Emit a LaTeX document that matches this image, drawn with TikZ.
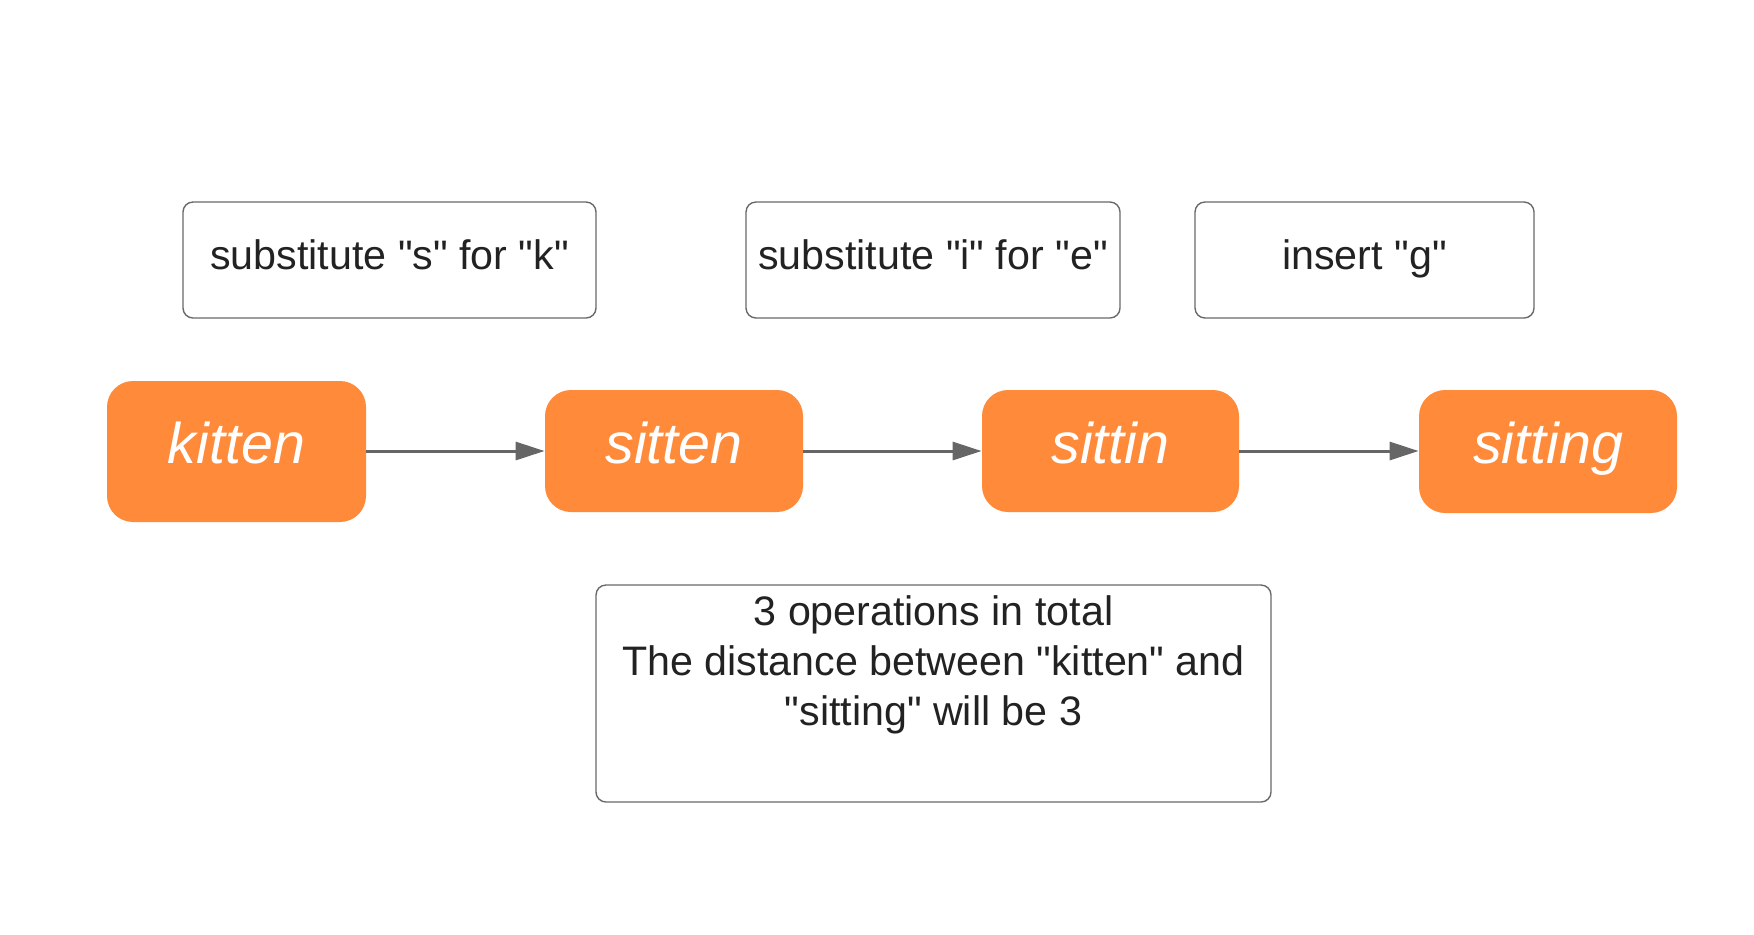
\documentclass[tikz,border=0pt]{standalone}
\usepackage{fontspec}
\setmainfont{Liberation Sans}[Ligatures=TeXOff]
\usetikzlibrary{arrows.meta}
\definecolor{orangefill}{RGB}{255,138,58}
\definecolor{boxline}{RGB}{105,105,105}
\definecolor{txt}{RGB}{34,34,34}
\definecolor{arrowcol}{RGB}{102,102,102}
\tikzset{
  notebox/.style={draw=boxline, line width=0.7pt, rounded corners=5pt, inner sep=0pt, fill=white},
  wordbox/.style={fill=orangefill, rounded corners=13pt, inner sep=0pt},
  notetext/.style={anchor=base, text=txt, font=\fontsize{20.6}{25}\selectfont, inner sep=0pt},
  wordtext/.style={anchor=base, text=white, font=\fontsize{28.7}{34}\selectfont\itshape, inner sep=0pt},
  flow/.style={draw=arrowcol, line width=1.5pt, -{Triangle[length=14.5pt,width=9pt]}}
}
\begin{document}
\begin{tikzpicture}[x=0.5pt,y=-0.5pt]
\useasboundingbox (0,0) rectangle (1754,934);
% top notes
\node[notebox, minimum width=206.5pt, minimum height=58pt] (b1) at (389.5,260) {};
\node[notebox, minimum width=187pt, minimum height=58pt] (b2) at (933,260) {};
\node[notebox, minimum width=169.5pt, minimum height=58pt] (b3) at (1364.5,260) {};
\node[notetext] (t1) at (389.5,269) {substitute "s" for "k"};
\node[notetext] (t2) at (933,269) {substitute "i" for "e"};
\node[notetext] (t3) at (1364.5,269) {insert "g"};
% words
\node[wordbox, minimum width=129.5pt, minimum height=70.5pt] (kitten) at (236.5,451.5) {};
\node[wordbox, minimum width=129pt, minimum height=61pt] (sitten) at (674,451) {};
\node[wordbox, minimum width=128.5pt, minimum height=61pt] (sittin) at (1110.5,451) {};
\node[wordbox, minimum width=129pt, minimum height=61.5pt] (sitting) at (1548,451.5) {};
\node[wordtext] (w1) at (236.5,463) {kitten};
\node[wordtext] (w2) at (674,463) {sitten};
\node[wordtext] (w3) at (1110.5,463) {sittin};
\node[wordtext] (w4) at (1548,463) {sitting};
% arrows
\draw[flow] (kitten.east |- 0,451) -- (sitten.west |- 0,451);
\draw[flow] (sitten.east |- 0,451) -- (sittin.west |- 0,451);
\draw[flow] (sittin.east |- 0,451) -- (sitting.west |- 0,451);
% bottom note
\node[notebox, minimum width=337.5pt, minimum height=108.5pt] (summary) at (933.5,693.5) {};
\node[notetext] (s1) at (933.5,625) {3 operations in total};
\node[notetext] (s2) at (933.5,675) {The distance between "kitten" and};
\node[notetext] (s3) at (933.5,725) {"sitting" will be 3};
\end{tikzpicture}
\end{document}
